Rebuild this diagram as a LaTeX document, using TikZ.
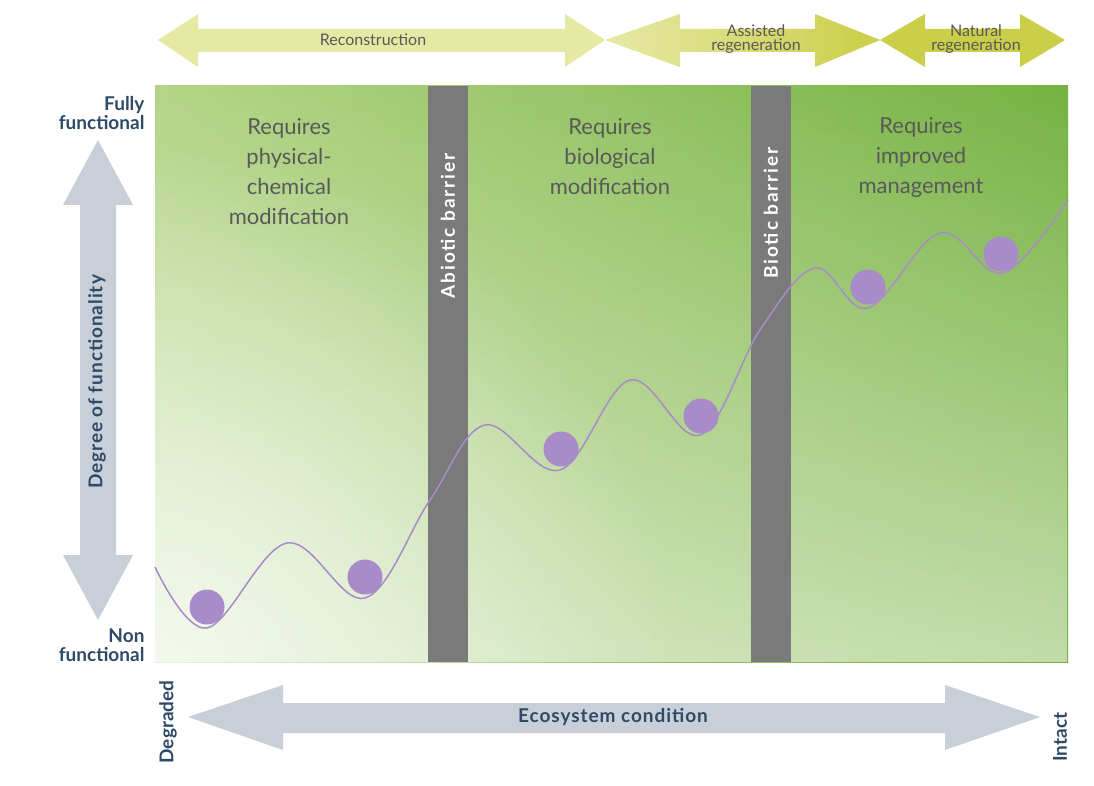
\documentclass[tikz,border=0pt]{standalone}
\usepackage{fontspec}
\setmainfont{Lato}
\usetikzlibrary{calc,fadings}
\tikzfading[name=rfade, inner color=transparent!30, outer color=transparent!100]
\definecolor{axisg}{HTML}{C9CFD9}
\definecolor{axt}{HTML}{2E4A66}
\definecolor{bar}{HTML}{7A7A7A}
\definecolor{purp}{HTML}{A98BC9}
\definecolor{yl1}{HTML}{E6E9A4}
\definecolor{yl2}{HTML}{D5D96A}
\definecolor{yl3}{HTML}{CACE48}
\definecolor{gl}{HTML}{B4D588}
\definecolor{gd}{HTML}{76B242}
\tikzset{
 paneltxt/.style={text=black!65, font=\fontsize{22}{30}\selectfont, align=center},
 bartxt/.style={text=white, font=\bfseries\fontsize{19}{20}\selectfont\addfontfeature{LetterSpace=10}, rotate=90},
 axtxt/.style={text=axt, font=\bfseries\fontsize{19}{22}\selectfont\addfontfeature{LetterSpace=5}},
 axtxtb/.style={text=axt, font=\bfseries\fontsize{19}{22}\selectfont},
 toptxt/.style={text=black!65, font=\fontsize{16}{17}\selectfont, align=center},
 ball/.style={circle, fill=purp, minimum size=35pt, inner sep=0pt},
}
\begin{document}
\begin{tikzpicture}[x=1pt,y=-1pt]
\useasboundingbox (0,0) rectangle (1094,786);
\fill[white] (0,0) rectangle (1094,786);
% panel
\shade[left color=gl, right color=gd] (155,86) rectangle (1068,662);
\fill[white, opacity=0.55, path fading=north] (155,86) rectangle (1068,662);
\begin{scope}
\clip (155,86) rectangle (1068,662);
\fill[white, path fading=rfade] (155,662) circle[radius=520];
\end{scope}
% top arrows
\fill[yl1] (158,40) -- (198,14) -- (198,29) -- (565,29) -- (565,14) -- (605,40) -- (565,67) -- (565,52) -- (198,52) -- (198,67) -- cycle;
\shade[left color=yl1, right color=yl3] (605,40) -- (680,14) -- (680,29) -- (815,29) -- (815,14) -- (880,40) -- (815,67) -- (815,52) -- (680,52) -- (680,67) -- cycle;
\fill[yl3] (880,40) -- (925,14) -- (925,29) -- (1020,29) -- (1020,14) -- (1065,40) -- (1020,67) -- (1020,52) -- (925,52) -- (925,67) -- cycle;
\node[toptxt] (rec) at (373,40) {Reconstruction};
\node[toptxt] (asr) at (756,39) {Assisted\\[-3pt]regeneration};
\node[toptxt] (nat) at (976,39) {Natural\\[-3pt]regeneration};
% barriers
\fill[bar] (428,86) rectangle (468,662);
\fill[bar] (751,86) rectangle (791,662);
\node[bartxt] (ab) at (448,226) {Abiotic barrier};
\node[bartxt] (bb) at (771,213) {Biotic barrier};
% panel texts
\node[paneltxt] (p1) at (289,172) {Requires\\physical-\\chemical\\modification};
\node[paneltxt] (p2) at (610,157) {Requires\\biological\\modification};
\node[paneltxt] (p3) at (921,157) {Requires\\improved\\management};
% curve
\draw[purp, line width=1.5pt] plot[smooth, tension=0.6] coordinates {(155,567) (207,628) (287,543) (365,598) (430,500) (485,425) (560,470) (630,380) (700,435) (760,330) (815,268) (868,308) (940,233) (1003,273) (1068,200)};
\node[ball] (b1) at (207,607) {};
\node[ball] (b2) at (365,577) {};
\node[ball] (b3) at (561,449) {};
\node[ball] (b4) at (701,416) {};
\node[ball] (b5) at (868,287) {};
\node[ball] (b6) at (1001,254) {};
% left axis
\fill[axisg] (98,140) -- (133,205) -- (116,205) -- (116,555) -- (133,555) -- (98,620) -- (63,555) -- (80,555) -- (80,205) -- (63,205) -- cycle;
\node[axtxt, rotate=90] (deg) at (97,382) {Degree of functionality};
\node[axtxtb, align=right, anchor=east] (ff) at (148,113) {Fully\\[-3pt]functional};
\node[axtxtb, align=right, anchor=east] (nf) at (148,645) {Non\\[-3pt]functional};
% bottom axis
\fill[axisg] (188,717) -- (283,685) -- (283,703) -- (945,703) -- (945,685) -- (1040,717) -- (945,750) -- (945,733) -- (283,733) -- (283,750) -- cycle;
\node[axtxt] (eco) at (613,717) {Ecosystem condition};
\node[axtxtb, rotate=90] (dg) at (168,722) {Degraded};
\node[axtxtb, rotate=90] (it) at (1060,737) {Intact};
\end{tikzpicture}
\end{document}
